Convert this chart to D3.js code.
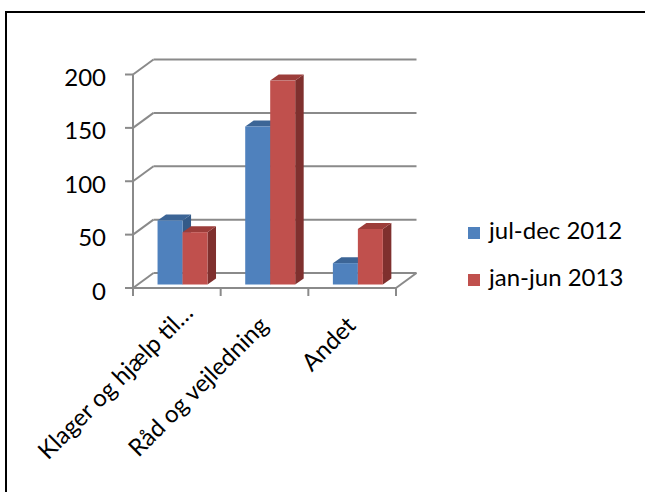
<!DOCTYPE html>
<html>
<head>
<meta charset="utf-8">
<script src="https://cdn.jsdelivr.net/npm/d3@7/dist/d3.min.js"></script>
<style>
  html, body { margin: 0; padding: 0; background: #fff; }
  svg { display: block; }
  text { font-family: Lato, "Liberation Sans", sans-serif; fill: #000; }
</style>
</head>
<body>
<svg id="chart" width="645" height="492"></svg>
<script>
const categories = ["Klager og hjælp til…", "Råd og vejledning", "Andet"];
const seriesNames = ["jul-dec 2012", "jan-jun 2013"];
const series1 = [60, 148, 20];   // jul-dec 2012
const series2 = [49, 191, 52];   // jan-jun 2013
const yTicks = [0, 50, 100, 150, 200];

const colors = [
  { front: "#4F81BD", top: "#3C6596", side: "#345A88" },
  { front: "#C0504D", top: "#9C3D3A", side: "#7F302E" }
];

const svg = d3.select("#chart");
const fontSize = 24;

// border
svg.append("path")
  .attr("d", "M6,700 L6,12 L700,12")
  .attr("fill", "none").attr("stroke", "#000").attr("stroke-width", 2);

const x = d3.scaleBand().domain(categories).range([133, 396]).paddingInner(0).paddingOuter(0);
const y = d3.scaleLinear().domain([0, 200]).range([288, 74.5]);

const depthX = 20.5, depthY = -15;       // wall depth
const gridColor = "#8A8A8A";
const g = svg.append("g");

// back wall gridlines + side wall diagonals
yTicks.forEach(t => {
  const yf = y(t);
  g.append("line").attr("x1", 133 + depthX).attr("x2", 396 + depthX)
    .attr("y1", yf + depthY).attr("y2", yf + depthY)
    .attr("stroke", gridColor).attr("stroke-width", 2);
  g.append("line").attr("x1", 133).attr("x2", 133 + depthX)
    .attr("y1", yf).attr("y2", yf + depthY)
    .attr("stroke", gridColor).attr("stroke-width", 2);
});

// floor front edge + right edge
g.append("line").attr("x1", 133).attr("x2", 396).attr("y1", y(0)).attr("y2", y(0))
  .attr("stroke", gridColor).attr("stroke-width", 2);
g.append("line").attr("x1", 396).attr("x2", 396 + depthX).attr("y1", y(0)).attr("y2", y(0) + depthY)
  .attr("stroke", gridColor).attr("stroke-width", 2);

// front vertical axis
g.append("line").attr("x1", 133).attr("x2", 133).attr("y1", y(200)).attr("y2", y(0) + 8)
  .attr("stroke", gridColor).attr("stroke-width", 2);
// y ticks
yTicks.forEach(t => {
  g.append("line").attr("x1", 125).attr("x2", 133).attr("y1", y(t)).attr("y2", y(t))
    .attr("stroke", gridColor).attr("stroke-width", 2);
  g.append("text").attr("x", 106).attr("y", y(t) + 2)
    .attr("text-anchor", "end").attr("dominant-baseline", "central")
    .attr("font-size", fontSize).text(t);
});
// category ticks
const catBounds = categories.map(c => x(c)).concat([x(categories[categories.length - 1]) + x.bandwidth()]);
catBounds.forEach((cx, i) => {
  if (i === 0) return;
  g.append("line").attr("x1", cx).attr("x2", cx).attr("y1", y(0)).attr("y2", y(0) + 8)
    .attr("stroke", gridColor).attr("stroke-width", 2);
});

// bars
const bw = x.bandwidth();
const barW = bw * 0.285;
const barOff = bw * 0.28;
const bDX = 8.5, bDY = -6;
const baseShift = -3.5;
const allSeries = [series1, series2];
categories.forEach((c, ci) => {
  allSeries.forEach((s, si) => {
    const x0 = x(c) + barOff + si * barW;
    const x1 = x0 + barW;
    const yb = y(0) + baseShift;
    const yt = y(s[ci]) + baseShift;
    const col = colors[si];
    g.append("path").attr("d", `M${x1},${yt} L${x1 + bDX},${yt + bDY} L${x1 + bDX},${yb + bDY} L${x1},${yb} Z`)
      .attr("fill", col.side);
    g.append("path").attr("d", `M${x0},${yt} L${x0 + bDX},${yt + bDY} L${x1 + bDX},${yt + bDY} L${x1},${yt} Z`)
      .attr("fill", col.top);
    g.append("rect").attr("x", x0).attr("y", yt).attr("width", barW).attr("height", yb - yt)
      .attr("fill", col.front);
  });
});

// category labels (rotated -45°, end-anchored; a truncation ellipsis overhangs the anchor)
categories.forEach(c => {
  const t = g.append("text").attr("text-anchor", "end").attr("font-size", fontSize).text(c);
  let overhang = 0;
  if (c.endsWith("…")) {
    const probe = g.append("text").attr("font-size", fontSize).text("…");
    overhang = probe.node().getComputedTextLength();
    probe.remove();
  }
  const cx = x(c) + bw / 2 + 5 + overhang * Math.SQRT1_2;
  const cy = 327 - overhang * Math.SQRT1_2;
  t.attr("transform", `translate(${cx},${cy}) rotate(-45)`);
});

// legend
seriesNames.forEach((n, i) => {
  const ly = 227 + i * 47;
  svg.append("rect").attr("x", 468).attr("y", ly).attr("width", 12).attr("height", 12)
    .attr("fill", colors[i].front);
  svg.append("text").attr("x", 489).attr("y", ly + 12).attr("font-size", fontSize).text(n);
});
</script>
</body>
</html>
